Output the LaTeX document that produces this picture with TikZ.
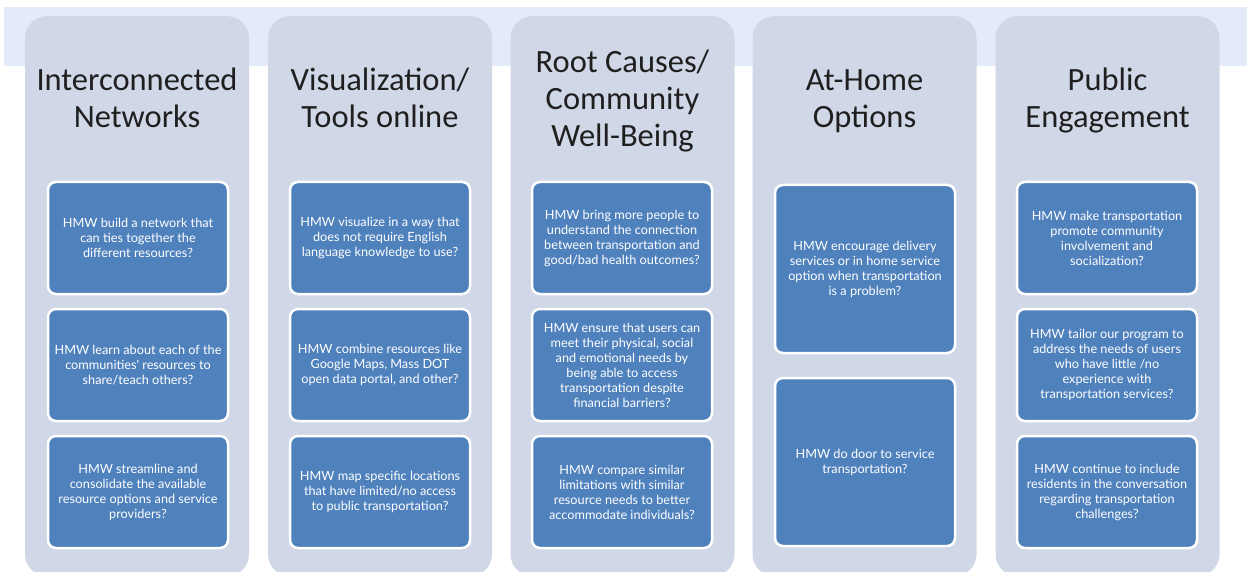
\documentclass[tikz,border=0pt]{standalone}
\usepackage{fontspec}
\setmainfont{Carlito}
\newfontfamily\hmwfont{Lato}

\definecolor{bandblue}{HTML}{E3EBF9}
\definecolor{colgray}{HTML}{D0D8E7}
\definecolor{hmwblue}{HTML}{4F81BD}

\tikzset{
  column/.style={fill=colgray, rounded corners=22pt, anchor=north,
    minimum width=224pt, minimum height=560pt, inner sep=0pt},
  heading/.style={align=center, text=black!88, anchor=base,
    font=\fontsize{32.5}{37}\selectfont},
  hmw/.style={fill=hmwblue, draw=white, line width=2.5pt, rounded corners=8pt,
    minimum width=180pt, minimum height=112pt, inner sep=2pt,
    align=center, text=white, font=\hmwfont\fontsize{12.7}{15}\selectfont},
}

\begin{document}
\begin{tikzpicture}[x=1pt,y=-1pt]
  \useasboundingbox (0,0) rectangle (1247,572);
  % light band behind the column tops
  \fill[bandblue] (4,7) rectangle (1247,66);

  % the five columns
  \node[column] (net)  at (137,16)   {};
  \node[column] (viz)  at (380,16)   {};
  \node[column] (root) at (622.5,16) {};
  \node[column] (home) at (864.5,16) {};
  \node[column] (pub)  at (1107.5,16) {};

  % headings, placed on the baseline of their last line
  \node[heading] (netT)  at (137,128)    {Interconnected\\Networks};
  \node[heading] (vizT)  at (380,128)    {Visualization/\\Tools online};
  \node[heading] (rootT) at (622.5,147)  {Root Causes/\\Community\\Well-Being};
  \node[heading] (homeT) at (864.5,128)  {At-Home\\Options};
  \node[heading] (pubT)  at (1107.5,128) {Public\\Engagement};

  % HMW questions
  \node[hmw] (net1) at (138,238) {HMW build a network that\\can ties together the\\different resources?};
  \node[hmw] (net2) at (138,365) {HMW learn about each of the\\communities' resources to\\share/teach others?};
  \node[hmw] (net3) at (138,492) {HMW streamline and\\consolidate the available\\resource options and service\\providers?};

  \node[hmw] (viz1) at (380,238) {HMW visualize in a way that\\does not require English\\language knowledge to use?};
  \node[hmw] (viz2) at (380,365) {HMW combine resources like\\Google Maps, Mass DOT\\open data portal, and other?};
  \node[hmw] (viz3) at (380,492) {HMW map specific locations\\that have limited/no access\\to public transportation?};

  \node[hmw] (root1) at (622,238) {HMW bring more people to\\understand the connection\\between transportation and\\good/bad health outcomes?};
  \node[hmw] (root2) at (622,365) {HMW ensure that users can\\meet their physical, social\\and emotional needs by\\being able to access\\transportation despite\\financial barriers?};
  \node[hmw] (root3) at (622,492) {HMW compare similar\\limitations with similar\\resource needs to better\\accommodate individuals?};

  \node[hmw, minimum height=168pt] (home1) at (865,269) {HMW encourage delivery\\services or in home service\\option when transportation\\is a problem?};
  \node[hmw, minimum height=168pt] (home2) at (865,462) {HMW do door to service\\transportation?};

  \node[hmw] (pub1) at (1107,238) {HMW make transportation\\promote community\\involvement and\\socialization?};
  \node[hmw] (pub2) at (1107,365) {HMW tailor our program to\\address the needs of users\\who have little /no\\experience with\\transportation services?};
  \node[hmw] (pub3) at (1107,492) {HMW continue to include\\residents in the conversation\\regarding transportation\\challenges?};
\end{tikzpicture}
\end{document}
